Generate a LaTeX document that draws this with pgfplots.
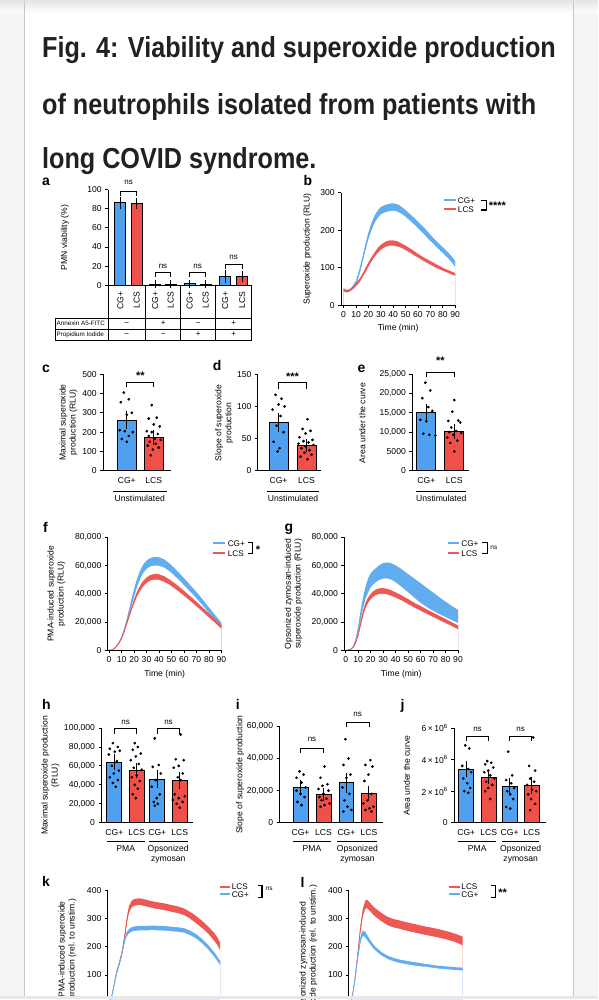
\documentclass[border=0pt]{standalone}
\usepackage{fontspec}
\setmainfont{Liberation Sans}
\newfontfamily\titlefont[FakeStretch=0.87]{Liberation Sans}
\usepackage{pgfplots}
\pgfplotsset{compat=1.18}
\usepackage{pgfplotstable}

\definecolor{cgblue}{RGB}{80,160,240}
\definecolor{lcsred}{RGB}{240,80,74}
\definecolor{cgline}{RGB}{98,172,240}
\definecolor{lcsline}{RGB}{238,88,82}
\definecolor{titlegray}{RGB}{33,33,33}

\newcommand{\ftk}{\fontsize{8.6}{9}\selectfont}
\newcommand{\flb}{\fontsize{8.6}{10}\selectfont}
\newcommand{\flg}{\fontsize{8.2}{9}\selectfont}
\newcommand{\fst}{\fontsize{11}{11}\selectfont\bfseries}
\newcommand{\fns}{\fontsize{8}{9}\selectfont}

\pgfplotsset{
  prism/.style={
    scale only axis, anchor=south west, clip=false, axis on top,
    axis x line*=bottom, axis y line*=left,
    axis line style={line width=0.9pt, black},
    tick style={black, line width=0.8pt},
    major tick length=3pt, tick align=outside,
    tick label style={font=\ftk},
    xlabel style={font=\flb},
    /pgf/number format/assume math mode=true,
    scaled ticks=false,
    /pgf/number format/fixed,
    /pgf/number format/1000 sep={,},
    /pgf/number format/min exponent for 1000 sep=4,
  },
}

\newcommand{\pbar}[5]{\addplot[ybar, bar width=#5, bar shift=0pt, fill=#4, draw=black, line width=0.9pt, forget plot,
  error bars/.cd, y dir=both, y explicit, error bar style={line width=0.9pt, black},
  error mark options={black, line width=0.9pt, mark size=3.5pt}] coordinates {(#1,#2) +- (0,#3)};}
\newcommand{\pdots}[1]{\addplot[only marks, mark=*, mark size=1.15pt, black, forget plot] coordinates {#1};}
% x1 x2 xc ytop yend ytext text
\newcommand{\brk}[7]{\draw[line width=0.8pt] (axis cs:#1,#5) -- (axis cs:#1,#4) -- (axis cs:#2,#4) -- (axis cs:#2,#5);
  \node[inner sep=0pt] at (axis cs:#3,#6) {#7};}
\newcommand{\band}[2]{%
  \addplot[fill=#2, draw=none, forget plot] table[x=t, y expr=\thisrow{m}+\thisrow{e}]{#1} \closedcycle;
  \addplot[fill=white, draw=none, forget plot] table[x=t, y expr=\thisrow{m}-\thisrow{e}]{#1} \closedcycle;
  \addplot[#2, line width=0.7pt, forget plot] table[x=t, y=m]{#1};}

\pgfplotstableread{
t m e
0 42 4
2 38 4
4 38 4
6 42 4
8 50 5
10 60 6
12 80 7
14 105 8
16 133 8
18 160 9
20 185 9
22 205 10
24 222 10
26 235 10
28 245 10
30 252 10
33 257 10
36 260 10
39 262 10
42 261 10
45 257 10
48 250 9
51 242 9
54 233 9
57 224 9
60 214 9
63 204 9
66 194 9
69 183 9
72 173 8
75 163 8
78 153 8
81 144 8
84 134 8
87 123 8
90 110 8
}\bCG
\pgfplotstableread{
t m e
0 40 3
2 37 3
4 38 3
6 42 3
8 48 4
10 55 4
12 62 5
14 72 5
16 84 5
18 96 6
20 108 6
22 120 6
25 135 6
28 148 7
31 157 7
34 163 7
37 166 7
40 166 7
43 164 7
46 160 6
50 153 6
55 143 6
60 132 5
65 122 5
70 113 5
75 104 5
80 96 4
85 89 4
90 82 4
}\bLCS
\pgfplotstableread{
t m e
0 0 300
2 300 300
4 1200 400
6 3000 500
8 5500 700
10 9000 900
12 14000 1200
14 20000 1500
16 27000 2000
18 34000 2500
20 40500 2800
22 46500 3000
24 51500 3000
26 55500 3000
28 58500 3000
30 60500 3000
32 61800 3000
34 62600 3000
36 63000 3000
38 63000 3000
40 62800 3000
44 61500 2900
48 59000 2800
52 55800 2700
56 52300 2600
60 48600 2500
64 44800 2400
68 41000 2300
72 37000 2200
76 32800 2100
80 28400 2000
84 24200 1900
88 20000 1800
90 18000 1700
}\fCG
\pgfplotstableread{
t m e
0 0 300
2 300 300
4 1100 300
6 2800 400
8 5200 500
10 8500 700
12 13000 900
14 18500 1100
16 24000 1300
18 29500 1500
20 34500 1700
22 39000 1800
24 42500 1900
26 45500 2000
28 47800 2000
30 49500 2000
32 50800 2000
34 51600 2000
36 52000 2000
38 52100 2000
40 51800 2000
44 50500 2000
48 48500 1900
52 46000 1900
56 43300 1800
60 40400 1800
64 37400 1700
68 34300 1700
72 31200 1600
76 28000 1500
80 24800 1500
84 21500 1400
88 18200 1300
90 16500 1300
}\fLCS
\pgfplotstableread{
t m e
0 0 300
2 200 300
4 800 400
6 2500 600
8 7000 1200
10 14500 2500
12 25000 3500
14 34000 4000
16 41000 4500
18 46000 5000
20 49500 5000
22 51500 5000
24 53000 5000
26 54500 5200
28 55500 5300
30 56200 5500
32 56500 5500
34 56400 5700
36 56000 5800
40 54200 6000
45 51000 6300
50 47500 6500
55 44000 6800
60 40500 7000
65 37400 6800
70 34500 6500
75 31700 6000
80 29000 5500
85 26400 5000
90 24000 4700
}\gCG
\pgfplotstableread{
t m e
0 0 300
2 200 300
4 700 300
6 2200 400
8 5500 700
10 11000 1200
12 19000 1800
14 26500 2000
16 32000 2000
18 35500 2000
20 38000 2000
22 39800 2000
24 41000 2000
26 41700 2000
28 42000 2000
30 42000 2000
32 41800 2000
34 41300 2000
36 40700 2000
40 39200 1900
45 37000 1800
50 34500 1800
55 32000 1700
60 29700 1700
65 27400 1600
70 25200 1600
75 23000 1500
80 20800 1500
85 18600 1400
90 16300 1400
}\gLCS
\pgfplotstableread{
t m e
0 0 4
2 20 4
4 62 5
6 105 6
8 135 6
10 168 7
11 190 7
12 212 8
13 230 8
14 243 8
16 255 8
18 261 8
20 264 8
25 266 8
30 266 8
35 267 8
40 266 8
45 265 8
50 263 8
55 261 8
60 258 8
65 249 8
70 236 8
75 218 8
80 195 8
85 168 8
89 142 8
}\kCG
\pgfplotstableread{
t m e
0 0 4
2 20 4
4 62 5
6 108 6
8 138 7
10 172 8
11 195 9
12 222 10
13 252 11
14 285 12
15 312 12
16 332 12
18 350 12
20 357 12
24 360 12
28 357 12
32 352 12
36 348 12
40 345 12
44 342 12
48 338 12
52 334 12
56 330 12
60 324 12
64 314 12
68 302 13
72 288 13
76 273 13
80 256 13
84 236 14
87 218 14
89 200 14
}\kLCS
\pgfplotstableread{
t m e
0 0 4
2 30 5
4 88 6
6 160 8
8 218 10
9 238 10
10 246 10
11 247 10
12 242 10
14 230 9
16 216 8
18 204 7
20 194 7
25 175 6
30 162 6
35 154 6
40 148 6
45 144 6
50 140 6
55 137 6
60 134 5
65 131 5
70 128 5
75 126 5
80 124 5
85 122 5
90 121 5
}\lCG
\pgfplotstableread{
t m e
0 0 4
2 30 5
4 90 8
6 170 10
8 255 12
10 318 14
12 347 15
13 352 15
14 350 15
16 340 15
18 330 15
20 322 15
25 305 15
30 291 15
35 283 15
40 278 15
45 272 15
50 267 15
55 262 15
60 257 15
65 253 15
70 248 15
75 243 15
80 237 15
85 230 15
90 220 16
}\lLCS

\begin{document}
\begin{tikzpicture}
% page background
\fill[white] (0,0) rectangle (599pt,-1000pt);
\fill[black!4] (0,0) rectangle (24pt,-1000pt);
\fill[black!4] (575pt,0) rectangle (599pt,-1000pt);
\shade[top color=black!10, bottom color=white] (0,0) rectangle (599pt,-12pt);
\draw[black!22, line width=1.6pt] (24.5pt,0) -- (24.5pt,-1000pt);
\draw[black!22, line width=1.6pt] (574.5pt,0) -- (574.5pt,-1000pt);

% title
\begin{scope}[every node/.style={anchor=base west, inner sep=0pt, text=titlegray, font=\titlefont\bfseries\fontsize{29}{30}\selectfont}]
\node at (42pt,-57pt) {Fig. 4: Viability and superoxide production};
\node at (42pt,-113.5pt) {of neutrophils isolated from patients with};
\node at (42pt,-168pt) {long COVID syndrome.};
\end{scope}

% panel letters
\begin{scope}[every node/.style={anchor=base west, inner sep=0pt, font=\fontsize{14}{14}\selectfont\bfseries}]
\node at (42pt,-185pt) {a};
\node at (304pt,-185pt) {b};
\node at (42pt,-372pt) {c};
\node at (213pt,-370pt) {d};
\node at (358pt,-372pt) {e};
\node at (43pt,-533pt) {f};
\node at (285pt,-532pt) {g};
\node at (42pt,-710pt) {h};
\node at (236pt,-710pt) {i};
\node at (401pt,-710pt) {j};
\node at (42pt,-887pt) {k};
\node at (301pt,-888pt) {l};
\end{scope}

% ---------------- a ----------------
\begin{axis}[prism, at={(108.3pt,-285pt)}, width=143.7pt, height=96pt,
  xmin=108.3, xmax=252, ymin=0, ymax=100, ytick={0,20,...,100},
  xtick={120.5,137,155.5,171,190,206,225.5,242.5},
  xticklabels={CG+,LCS,CG+,LCS,CG+,LCS,CG+,LCS},
  xticklabel style={rotate=90, anchor=east, font=\ftk}, xtick style={draw=none}]
\pbar{120.5}{86}{3}{cgblue}{11pt}
\pbar{137}{85.5}{2}{lcsred}{11pt}
\pbar{155.5}{1.2}{0.6}{cgblue}{11pt}
\pbar{171}{1}{0.5}{lcsred}{11pt}
\pbar{190}{1.5}{0.7}{cgblue}{11pt}
\pbar{206}{1.2}{0.6}{lcsred}{11pt}
\pbar{225.5}{9}{3}{cgblue}{11pt}
\pbar{242.5}{9.5}{2}{lcsred}{11pt}
\brk{120.5}{137}{128.75}{98}{93}{107}{\fns ns}
\brk{155.5}{171}{163.25}{13.5}{9}{20}{\fns ns}
\brk{190}{206}{198}{13.5}{9}{20}{\fns ns}
\brk{225.5}{242.5}{234}{22}{17}{29}{\fns ns}
\end{axis}
% table under a
\begin{scope}[line width=0.8pt]
\foreach \xx in {108.3,146,181,216,252} {\draw (\xx pt,-285pt) -- (\xx pt,-340pt);}
\draw (55pt,-317.7pt) -- (252pt,-317.7pt);
\draw (55pt,-328.8pt) -- (252pt,-328.8pt);
\draw (55pt,-340pt) -- (252pt,-340pt);
\draw (55pt,-317.7pt) -- (55pt,-340pt);
\end{scope}
\begin{scope}[every node/.style={font=\fontsize{6.3}{7}\selectfont, inner sep=0pt}]
\node[anchor=west] at (56.5pt,-323.3pt) {Annexin A5-FITC};
\node[anchor=west] at (56.5pt,-334.4pt) {Propidium Iodide};
\end{scope}
\begin{scope}[every node/.style={font=\fontsize{8}{8}\selectfont, inner sep=0pt}]
\node at (127pt,-323.3pt) {−}; \node at (163.5pt,-323.3pt) {+};
\node at (198.5pt,-323.3pt) {−}; \node at (234pt,-323.3pt) {+};
\node at (127pt,-334.4pt) {−}; \node at (163.5pt,-334.4pt) {−};
\node at (198.5pt,-334.4pt) {+}; \node at (234pt,-334.4pt) {+};
\end{scope}

% ---------------- b ----------------
\begin{axis}[prism, at={(341.7pt,-305pt)}, width=114.2pt, height=112.7pt,
  xmin=-2, xmax=90, ymin=0, ymax=300, ytick={0,100,200,300}, xtick={0,10,...,90},
  xlabel={Time (min)}]
\band{\bCG}{cgline}
\band{\bLCS}{lcsline}
\end{axis}

% ---------------- c ----------------
\begin{axis}[prism, at={(103.3pt,-470.7pt)}, width=68.4pt, height=96.7pt,
  xmin=103.3, xmax=171.7, ymin=0, ymax=500, ytick={0,100,...,500},
  xtick={127,154}, xticklabels={CG+,LCS}, xtick style={draw=none}]
\pbar{127}{262}{30}{cgblue}{19pt}
\pbar{154}{172}{20}{lcsred}{19pt}
\pdots{(124,405)(129,370)(121,355)(132,300)(127,290)(120,210)(125,205)(133,200)(129,180)(122,165)(127,150)}
\pdots{(152,340)(157,275)(149,270)(154,240)(160,230)(147,205)(152,200)(158,190)(149,180)(155,165)(161,160)(150,150)(156,140)(148,130)(159,120)(153,110)(151,80)}
\brk{127}{154}{140.5}{460}{432}{492}{\fst **}
\end{axis}

% ---------------- d ----------------
\begin{axis}[prism, at={(258.3pt,-470.7pt)}, width=63.4pt, height=96.7pt,
  xmin=258.3, xmax=321.7, ymin=0, ymax=150, ytick={0,50,100,150},
  xtick={279,307}, xticklabels={CG+,LCS}, xtick style={draw=none}]
\pbar{279}{75}{10}{cgblue}{19pt}
\pbar{307}{39}{5}{lcsred}{19pt}
\pdots{(276,118)(282,112)(279,103)(285,100)(273,95)(281,85)(277,70)(284,60)(274,45)(280,35)(278,30)}
\pdots{(308,80)(303,65)(311,62)(306,58)(300,52)(313,48)(304,46)(309,44)(299,42)(314,40)(306,38)(302,35)(310,32)(305,28)(312,25)(301,22)(308,18)}
\brk{279}{307}{293}{137}{127}{146}{\fst ***}
\end{axis}

% ---------------- e ----------------
\begin{axis}[prism, at={(413pt,-470.7pt)}, width=57pt, height=96.7pt,
  xmin=413, xmax=470, ymin=0, ymax=25000, ytick={0,5000,...,25000},
  xtick={427,455}, xticklabels={CG+,LCS}, xtick style={draw=none}]
\pbar{427}{15000}{1500}{cgblue}{19pt}
\pbar{455}{10100}{1000}{lcsred}{19pt}
\pdots{(426,22800)(431,20800)(423,18800)(429,16500)(433,15500)(421,13200)(427,12800)(424,9600)(430,9300)(436,9100)}
\pdots{(455,18300)(453,15300)(459,13000)(449,12900)(461,12500)(452,11200)(457,10300)(450,10000)(462,9800)(454,9300)(448,8600)(458,7800)(451,7200)(455,5000)}
\brk{427}{455}{441}{25400}{24200}{28400}{\fst **}
\end{axis}
% underlines c d e
\begin{scope}[line width=1pt]
\draw (113pt,-491.7pt) -- (167pt,-491.7pt);
\draw (267pt,-491.7pt) -- (320pt,-491.7pt);
\draw (417pt,-491.7pt) -- (467pt,-491.7pt);
\end{scope}
\begin{scope}[every node/.style={font=\flb, inner sep=0pt, anchor=north}]
\node at (140pt,-495pt) {Unstimulated};
\node at (293.5pt,-495pt) {Unstimulated};
\node at (442pt,-495pt) {Unstimulated};
\end{scope}

% ---------------- f ----------------
\begin{axis}[prism, at={(108pt,-650.7pt)}, width=113.75pt, height=113.4pt,
  xmin=-1, xmax=90, ymin=0, ymax=80000, ytick={0,20000,...,80000}, xtick={0,10,...,90},
  xlabel={Time (min)}]
\band{\fCG}{cgline}
\band{\fLCS}{lcsline}
\end{axis}

% ---------------- g ----------------
\begin{axis}[prism, at={(345pt,-650.7pt)}, width=113.75pt, height=113.4pt,
  xmin=-1, xmax=90, ymin=0, ymax=80000, ytick={0,20000,...,80000}, xtick={0,10,...,90},
  xlabel={Time (min)}]
\band{\gCG}{cgline}
\band{\gLCS}{lcsline}
\end{axis}

% ---------------- h ----------------
\begin{axis}[prism, at={(101.7pt,-823.3pt)}, width=91.3pt, height=95pt,
  xmin=101.7, xmax=193, ymin=0, ymax=100000, ytick={0,20000,...,100000},
  xtick={114.5,137,157.5,180}, xticklabels={CG+,LCS,CG+,LCS}, xtick style={draw=none}]
\pbar{114.5}{64000}{5000}{cgblue}{15pt}
\pbar{137}{55000}{4000}{lcsred}{15pt}
\pbar{157.5}{46000}{6000}{cgblue}{15pt}
\pbar{180}{44500}{5000}{lcsred}{15pt}
\pdots{(113,84000)(118,80000)(110,78000)(120,76000)(115,75000)(109,72000)(117,65000)(112,60000)(119,55000)(114,52000)(110,48000)(118,45000)(113,42000)(116,38000)}
\pdots{(135,84000)(138,80000)(133,77000)(141,73000)(136,70000)(131,66000)(139,62000)(134,58000)(142,56000)(137,50000)(132,48000)(140,44000)(135,40000)(138,36000)(133,30000)(136,26000)}
\pdots{(155,89000)(159,61000)(153,59000)(161,52000)(156,45000)(152,38000)(160,30000)(157,26000)(154,22000)(158,20000)(155,18000)}
\pdots{(181,93000)(176,67000)(184,66000)(179,60000)(174,58000)(183,52000)(178,48000)(181,45000)(175,30000)(185,28000)(179,26000)(173,24000)(183,22000)(177,20000)(180,16000)}
\brk{114.5}{137}{125.75}{99300}{93700}{105500}{\fns ns}
\brk{157.5}{180}{168.75}{99300}{93700}{105500}{\fns ns}
\end{axis}

% ---------------- i ----------------
\begin{axis}[prism, at={(280pt,-823.3pt)}, width=104pt, height=96.6pt,
  xmin=280, xmax=384, ymin=0, ymax=60000, ytick={0,20000,...,60000},
  xtick={301,324,347,369.5}, xticklabels={CG+,LCS,CG+,LCS}, xtick style={draw=none}]
\pbar{301}{22000}{2500}{cgblue}{15pt}
\pbar{324}{17500}{2000}{lcsred}{15pt}
\pbar{347}{25000}{4000}{cgblue}{15pt}
\pbar{369.5}{18500}{2500}{lcsred}{15pt}
\pdots{(300,32000)(304,30000)(297,28000)(302,25000)(306,22000)(297,20000)(301,18000)(305,16000)(298,13000)(302,11000)}
\pdots{(325,35000)(321,28000)(328,24000)(323,23000)(319,21000)(329,20000)(324,18000)(320,16000)(327,15000)(322,14000)(330,12000)(325,11000)(321,10000)}
\pdots{(346,52000)(349,40000)(344,36000)(351,30000)(347,28000)(343,22000)(350,18000)(345,14000)(348,10000)(352,8000)(344,7000)}
\pdots{(371,39000)(366,36000)(373,35000)(369,30000)(365,26000)(372,18000)(368,14000)(364,12000)(374,10000)(370,9000)(366,8000)(372,7000)}
\brk{301}{324}{312.5}{46500}{43700}{51800}{\fns ns}
\brk{347}{369.5}{358.25}{62500}{59600}{67500}{\fns ns}
\end{axis}

% ---------------- j ----------------
\begin{axis}[prism, at={(455pt,-823.3pt)}, width=92pt, height=95pt,
  xmin=455, xmax=547, ymin=0, ymax=6000000, ytick={0,2000000,4000000,6000000},
  yticklabels={0,{2\,×\,10\textsuperscript{6}},{4\,×\,10\textsuperscript{6}},{6\,×\,10\textsuperscript{6}}},
  xtick={467,489.5,510.5,532.5}, xticklabels={CG+,LCS,CG+,LCS}, xtick style={draw=none}]
\pbar{467}{3.4e6}{0.3e6}{cgblue}{15pt}
\pbar{489.5}{2.85e6}{0.2e6}{lcsred}{15pt}
\pbar{510.5}{2.3e6}{0.3e6}{cgblue}{15pt}
\pbar{532.5}{2.35e6}{0.3e6}{lcsred}{15pt}
\pdots{(466,4.9e6)(470,4.7e6)(463,3.6e6)(469,3.4e6)(472,3.2e6)(464,2.8e6)(468,2.5e6)(471,2.2e6)(465,2.0e6)(469,1.9e6)}
\pdots{(488,3.9e6)(492,3.8e6)(486,3.7e6)(494,3.5e6)(489,3.3e6)(485,3.2e6)(491,3.0e6)(495,2.8e6)(487,2.6e6)(493,2.4e6)(489,2.2e6)(486,2.0e6)(491,1.5e6)}
\pdots{(509,4.5e6)(513,3.0e6)(507,2.7e6)(512,2.5e6)(515,2.2e6)(508,2.0e6)(511,1.8e6)(514,1.5e6)(507,1.0e6)(511,0.9e6)}
\pdots{(534,5.4e6)(530,3.6e6)(536,3.3e6)(531,2.8e6)(535,2.6e6)(528,2.4e6)(533,2.1e6)(537,2.0e6)(529,1.8e6)(532,1.5e6)(536,1.2e6)(531,0.8e6)}
\brk{467}{489.5}{478.25}{5.47e6}{5.15e6}{5.9e6}{\fns ns}
\brk{510.5}{532.5}{521.5}{5.47e6}{5.15e6}{5.9e6}{\fns ns}
\end{axis}
% underlines h i j
\begin{scope}[line width=1pt]
\draw (107pt,-841.7pt) -- (145pt,-841.7pt);
\draw (149pt,-841.7pt) -- (188pt,-841.7pt);
\draw (293pt,-841.7pt) -- (332pt,-841.7pt);
\draw (338pt,-841.7pt) -- (378pt,-841.7pt);
\draw (459pt,-841.7pt) -- (497pt,-841.7pt);
\draw (503pt,-841.7pt) -- (540pt,-841.7pt);
\end{scope}
\begin{scope}[every node/.style={font=\flb, inner sep=0pt, anchor=north, align=center}]
\node at (126pt,-845.5pt) {PMA};
\node at (168.5pt,-845.5pt) {Opsonized\\zymosan};
\node at (312.5pt,-845.5pt) {PMA};
\node at (358pt,-845.5pt) {Opsonized\\zymosan};
\node at (478pt,-845.5pt) {PMA};
\node at (521.5pt,-845.5pt) {Opsonized\\zymosan};
\end{scope}

% ---------------- k (cut at the page bottom) ----------------
\begin{axis}[prism, at={(108pt,-1000pt)}, width=113.75pt, height=109pt, clip=true,
  axis x line=none, xmin=-1, xmax=90, ymin=13.8, ymax=400, ytick={100,200,300,400}]
\band{\kLCS}{lcsline}
\band{\kCG}{cgline}
\end{axis}

% ---------------- l ----------------
\begin{axis}[prism, at={(349.5pt,-1000pt)}, width=113.75pt, height=109pt, clip=true,
  axis x line=none, xmin=-1, xmax=90, ymin=13.8, ymax=400, ytick={100,200,300,400}]
\band{\lLCS}{lcsline}
\band{\lCG}{cgline}
\end{axis}

% y labels
\begin{scope}[every node/.style={rotate=90, align=center, font=\flb, inner sep=0pt}]
\node at (65pt,-237pt) {PMN viability (\%)};
\node at (308pt,-248.7pt) {Superoxide production (RLU)};
\node at (68.5pt,-422.4pt) {Maximal superoxide\\production (RLU)};
\node at (224.5pt,-423pt) {Slope of superoxide\\production};
\node at (363pt,-423pt) {Area under the curve};
\node at (56.5pt,-594pt) {PMA-induced superoxide\\production (RLU)};
\node at (294pt,-594pt) {Opsonized zymosan-induced\\superoxide production (RLU)};
\node at (50.5pt,-776pt) {Maximal superoxide production\\(RLU)};
\node at (240.5pt,-775pt) {Slope of superoxide production};
\node at (407.5pt,-776pt) {Area under the curve};
\end{scope}
\begin{scope}[overlay]
\clip (0,-860pt) rectangle (599pt,-1000pt);
\begin{scope}[every node/.style={rotate=90, align=center, font=\flb, inner sep=0pt}]
\node at (67.5pt,-950pt) {PMA-induced superoxide\\production (rel. to unstim.)};
\node at (309pt,-958pt) {Opsonized zymosan-induced\\superoxide production (rel. to unstim.)};
\end{scope}
\end{scope}

% legends
\begin{scope}[every node/.style={font=\flg, inner sep=0pt, anchor=west}]
% b
\draw[cgline, line width=2pt] (445pt,-200pt) -- (456.7pt,-200pt);
\draw[lcsline, line width=2pt] (445pt,-209pt) -- (456.7pt,-209pt);
\node at (458.5pt,-200pt) {CG+}; \node at (458.5pt,-209pt) {LCS};
\draw[line width=1.4pt] (481.5pt,-200pt) -- (487.5pt,-200pt) -- (487.5pt,-209.5pt) -- (481.5pt,-209.5pt);
\node[font=\fst] at (489.5pt,-205.5pt) {****};
% f
\draw[cgline, line width=2pt] (213.3pt,-543.3pt) -- (225pt,-543.3pt);
\draw[lcsline, line width=2pt] (213.3pt,-553.3pt) -- (225pt,-553.3pt);
\node at (228pt,-543.3pt) {CG+}; \node at (228pt,-553.3pt) {LCS};
\draw[line width=1.4pt] (248pt,-542.5pt) -- (253pt,-542.5pt) -- (253pt,-553.5pt) -- (248pt,-553.5pt);
\node[font=\fst] at (256pt,-550pt) {*};
% g
\draw[cgline, line width=2pt] (448.3pt,-543.3pt) -- (460pt,-543.3pt);
\draw[lcsline, line width=2pt] (448.3pt,-553.3pt) -- (460pt,-553.3pt);
\node at (462pt,-543.3pt) {CG+}; \node at (462pt,-553.3pt) {LCS};
\draw[line width=1.4pt] (483pt,-542.5pt) -- (488pt,-542.5pt) -- (488pt,-553.5pt) -- (483pt,-553.5pt);
\node[font=\fontsize{6.5}{7}\selectfont] at (491pt,-547.5pt) {ns};
% k
\draw[lcsline, line width=2pt] (220pt,-887.7pt) -- (230.7pt,-887.7pt);
\draw[cgline, line width=2pt] (220pt,-895pt) -- (230.7pt,-895pt);
\node at (232pt,-887.7pt) {LCS}; \node at (232pt,-895pt) {CG+};
\draw[line width=1.4pt] (258pt,-886pt) -- (262.5pt,-886pt) -- (262.5pt,-898pt) -- (258pt,-898pt);
\node[font=\fontsize{6.5}{7}\selectfont] at (266pt,-889pt) {ns};
% l
\draw[lcsline, line width=2pt] (450pt,-887.7pt) -- (460.7pt,-887.7pt);
\draw[cgline, line width=2pt] (450pt,-895pt) -- (460.7pt,-895pt);
\node at (462pt,-887.7pt) {LCS}; \node at (462pt,-895pt) {CG+};
\draw[line width=1.4pt] (491.5pt,-886pt) -- (496pt,-886pt) -- (496pt,-898pt) -- (491.5pt,-898pt);
\node[font=\fst] at (499pt,-893.5pt) {**};
\end{scope}
\fill[black!9] (0,-997pt) rectangle (599pt,-1000pt);
\end{tikzpicture}
\end{document}
